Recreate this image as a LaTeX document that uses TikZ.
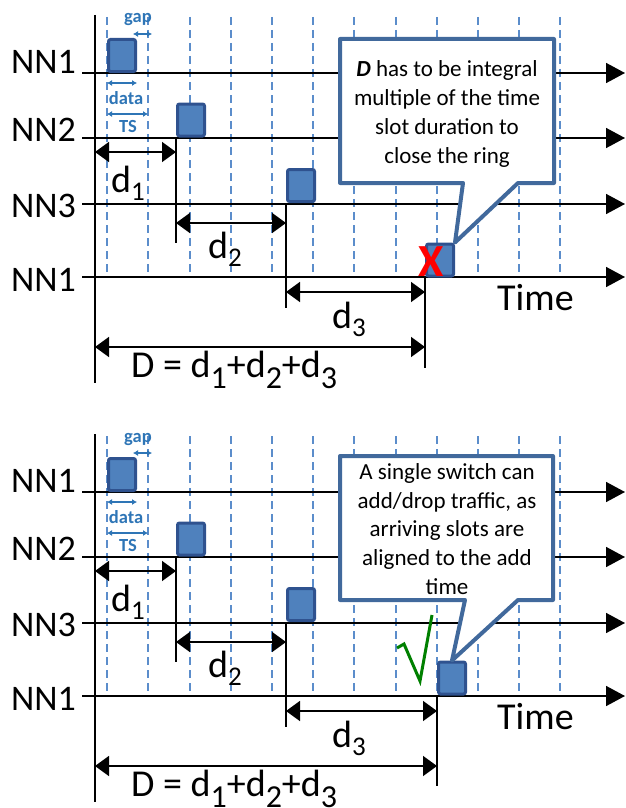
\documentclass[tikz,border=0pt]{standalone}
\usepackage{fontspec}
\setmainfont{Carlito}
\usetikzlibrary{arrows.meta}
\definecolor{slotfill}{HTML}{4F81BD}
\definecolor{slotedge}{HTML}{2F528F}
\definecolor{gridblue}{HTML}{5B8DCB}
\definecolor{tsblue}{HTML}{2E75B6}
\definecolor{calledge}{HTML}{41699C}
\definecolor{okgreen}{HTML}{008000}
\newcommand\idx[3][27]{\raisebox{-#2pt}{\fontsize{#1}{#1}\selectfont #3}}
\begin{document}
\begin{tikzpicture}[x=1pt,y=-1pt,
  slot/.style={draw=slotedge,fill=slotfill,line width=3pt,rounded corners=2pt,minimum width=27pt,minimum height=32pt,inner sep=0pt},
  slotgrid/.style={gridblue,line width=2pt,dash pattern=on 8pt off 5pt},
  timeline/.style={line width=1.6pt,-{Triangle[length=19pt,width=20pt]}},
  dimtick/.style={line width=1.6pt},
  dim/.style={line width=1.6pt,{Triangle[length=14pt,width=20pt]}-{Triangle[length=14pt,width=20pt]}},
  tsarrow/.style={tsblue,line width=1.4pt,{Latex[length=5pt,width=6pt]}-{Latex[length=5pt,width=6pt]}},
  smalltext/.style={text=tsblue,font=\bfseries\fontsize{18.5}{18.5}\selectfont,inner sep=0pt,anchor=base},
  nnlabel/.style={anchor=east,font=\fontsize{36}{36}\selectfont,inner sep=0pt},
  dlabel/.style={anchor=base west,font=\fontsize{38}{38}\selectfont,inner sep=0pt},
  balloon/.style={draw=calledge,fill=white,line width=4pt,line join=round},
  calltext/.style={align=center,font=\fontsize{23}{28.7}\selectfont,inner sep=0pt}]
\useasboundingbox (0,0) rectangle (626,808);

\foreach \p/\oy/\ex/\ey in {a/0/440/260, b/419/452/259}{
  \foreach \x in {107,148,190,231,272,313,354,396,437,478,519,560}
    \draw[slotgrid] (\x,17+\oy) -- (\x,277+\oy);
  \draw[dimtick] (95,15+\oy) -- (95,383+\oy);

  \coordinate (l1\p) at (82,73+\oy);
  \coordinate (l2\p) at (82,138+\oy);
  \coordinate (l3\p) at (82,204+\oy);
  \coordinate (l4\p) at (82,277+\oy);
  \draw[timeline] (l1\p) -- ++(543,0);
  \draw[timeline] (l2\p) -- ++(543,0);
  \draw[timeline] (l3\p) -- ++(543,0);
  \draw[timeline] (l4\p) -- ++(543,0);
  \node[nnlabel] (n1\p) at (76,62+\oy) {NN1};
  \node[nnlabel] (n2\p) at (76,130+\oy) {NN2};
  \node[nnlabel] (n3\p) at (76,206+\oy) {NN3};
  \node[nnlabel] (n4\p) at (76,280+\oy) {NN1};

  \node[slot] (s1\p) at (122,55.5+\oy) {};
  \node[slot] (s2\p) at (191,120+\oy) {};
  \node[slot] (s3\p) at (301,185.5+\oy) {};
  \node[slot] (s4\p) at (\ex,\ey+\oy) {};

  \draw[dimtick] (s2\p.south west) -- ++(0,105);
  \draw[dimtick] (s3\p.south west) -- ++(0,105);
  \draw[dimtick] (s4\p.south west) -- ++(0,90);

  \coordinate (m1\p) at (95,152+\oy);
  \coordinate (m2\p) at (176,223+\oy);
  \coordinate (m3\p) at (286,292+\oy);
  \coordinate (m4\p) at (95,347+\oy);
  \draw[dim] (m1\p) -- (m1\p -| s2\p.south west);
  \draw[dim] (m2\p) -- (m2\p -| s3\p.south west);
  \draw[dim] (m3\p) -- (m3\p -| s4\p.south west);
  \draw[dim] (m4\p) -- (m4\p -| s4\p.south west);

  \node[dlabel] (dl1\p) at (111,192+\oy) {d\idx{8}{1}};
  \node[dlabel] (dl2\p) at (208,258+\oy) {d\idx{8}{2}};
  \node[dlabel] (dl3\p) at (332,328+\oy) {d\idx{8}{3}};
  \node[dlabel] (sum\p) at (131,377+\oy) {D = d\idx[32]{11}{1}+d\idx[32]{11}{2}+d\idx[32]{11}{3}};
  \node[dlabel] (time\p) at (497,310+\oy) {Time};

  \draw[tsarrow] (133,34+\oy) -- (152,34+\oy);
  \node[smalltext] (gap\p) at (138,23+\oy) {gap};
  \draw[tsarrow] (107,83+\oy) -- (137,83+\oy);
  \node[smalltext] (data\p) at (126,104+\oy) {data};
  \draw[tsarrow] (107,114+\oy) -- (148,114+\oy);
  \node[smalltext] (ts\p) at (128,132+\oy) {TS};
}

\draw[balloon] (340,39) -- (554,39) -- (554,183) -- (518,183) -- (s4a.north east) -- (463,183) -- (340,183) -- cycle;
\node[calltext] (note1) at (447,114) {\textbf{\textit{D}} has to be integral\\multiple of the time\\slot duration to\\close the ring};
\node[text=red,font=\bfseries\fontsize{46}{46}\selectfont,inner sep=0pt] (cross) at (431,262) {X};

\draw[balloon] (340,456) -- (553,456) -- (553,600) -- (518,600) -- (s4b.north) -- (465,600) -- (340,600) -- cycle;
\node[calltext] (note2) at (447,529) {A single switch can\\add/drop traffic, as\\arriving slots are\\aligned to the add\\time};
\draw[okgreen,line width=3pt] (397,648) -- (404,644) -- (420,681) -- (432,615);
\end{tikzpicture}
\end{document}
